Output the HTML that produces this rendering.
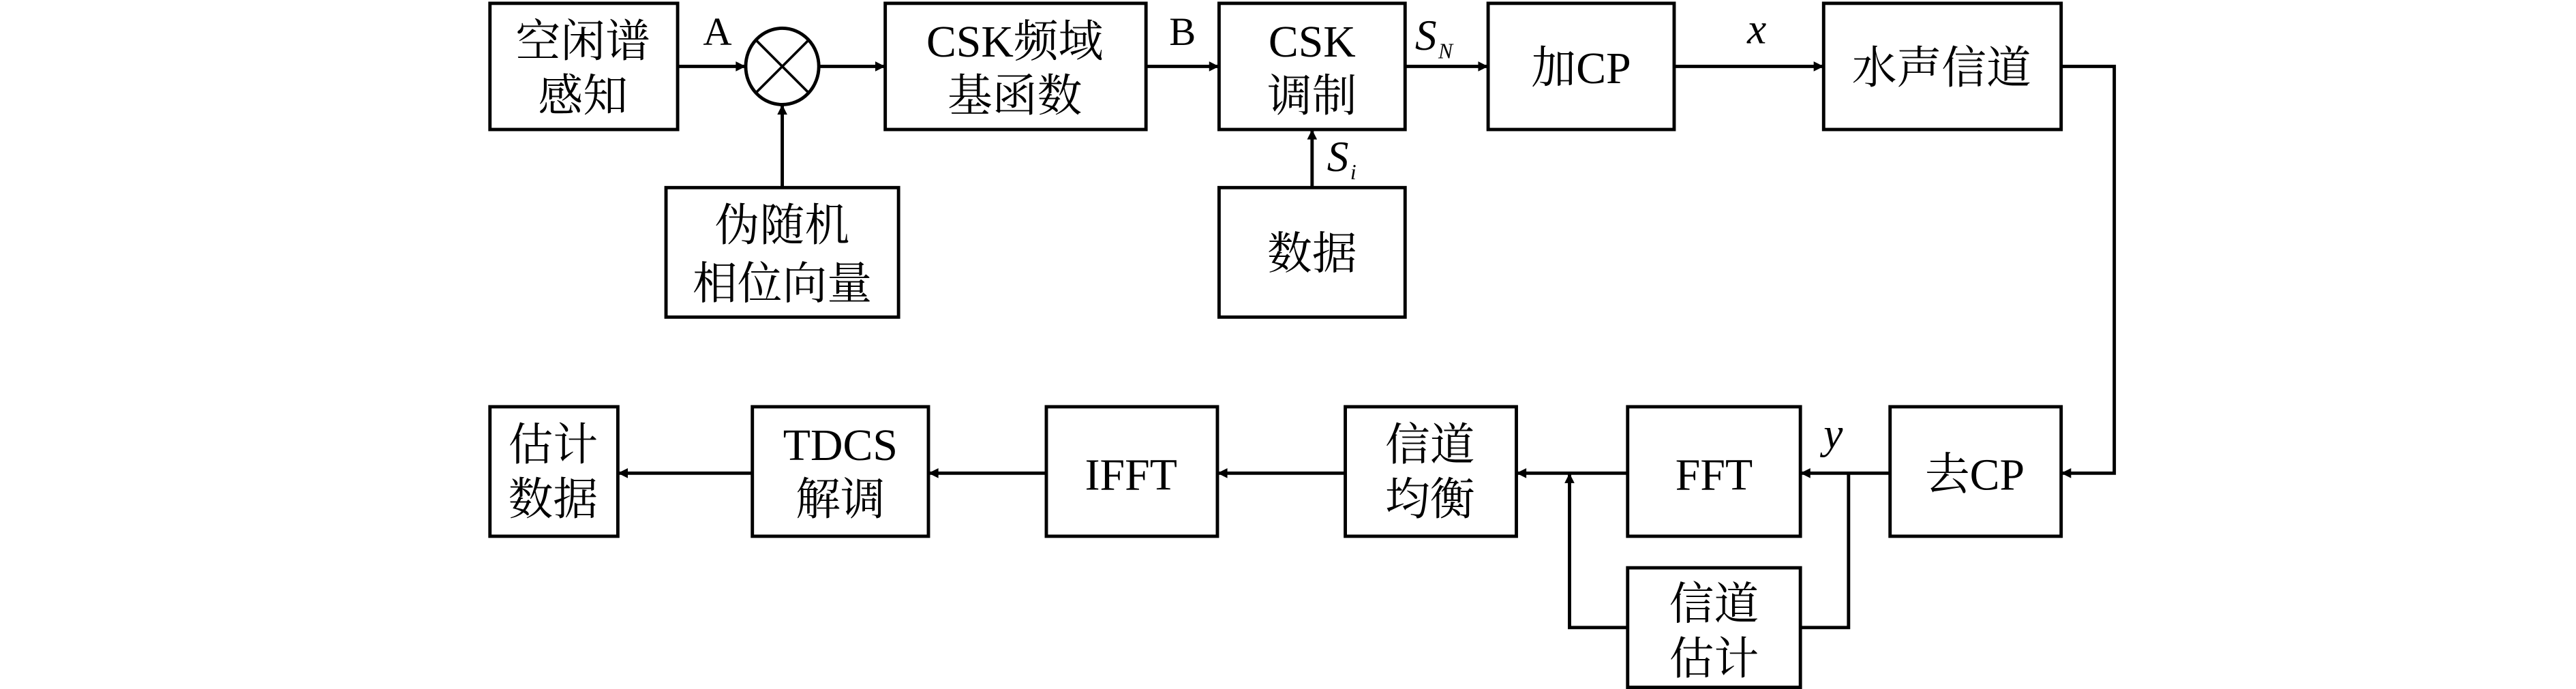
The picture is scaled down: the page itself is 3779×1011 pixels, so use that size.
<!DOCTYPE html>
<html><head><meta charset="utf-8"><style>html,body{margin:0;padding:0;background:#fff}svg{display:block}</style></head>
<body>
<svg width="3779" height="1011" viewBox="0 0 1551 415" preserveAspectRatio="none" xmlns="http://www.w3.org/2000/svg">
<defs>
<marker id="ar" viewBox="0 0 10 10" refX="10" refY="5" markerWidth="7" markerHeight="6" orient="auto" markerUnits="userSpaceOnUse"><path d="M0,0 L10,5 L0,10 z" fill="#000"/></marker>
</defs>
<g fill="#fff" stroke="#000" stroke-width="2">
<rect x="295" y="2" width="113" height="76"/>
<rect x="401" y="113" width="140" height="78"/>
<rect x="533" y="2" width="157" height="76"/>
<rect x="734" y="2" width="112" height="76"/>
<rect x="734" y="113" width="112" height="78"/>
<rect x="896" y="2" width="112" height="76"/>
<rect x="1098" y="2" width="143" height="76"/>
<rect x="1138" y="245" width="103" height="78"/>
<rect x="980" y="245" width="104" height="78"/>
<rect x="980" y="342" width="104" height="72"/>
<rect x="810" y="245" width="103" height="78"/>
<rect x="630" y="245" width="103" height="78"/>
<rect x="453" y="245" width="106" height="78"/>
<rect x="295" y="245" width="77" height="78"/>
<ellipse cx="471" cy="40" rx="22" ry="23"/>
</g>
<g stroke="#000" stroke-width="1.5" fill="none">
<line x1="455" y1="24" x2="487" y2="56"/><line x1="487" y1="24" x2="455" y2="56"/>
</g>
<g stroke="#000" stroke-width="2" fill="none" marker-end="url(#ar)">
<line x1="408" y1="40" x2="449" y2="40"/>
<line x1="493" y1="40" x2="533" y2="40"/>
<line x1="471" y1="113" x2="471" y2="63"/>
<line x1="690" y1="40" x2="734" y2="40"/>
<line x1="790" y1="113" x2="790" y2="78"/>
<line x1="846" y1="40" x2="896" y2="40"/>
<line x1="1008" y1="40" x2="1098" y2="40"/>
<polyline points="1241,40 1273,40 1273,285 1241,285"/>
<line x1="1138" y1="285" x2="1084" y2="285"/>
<line x1="980" y1="285" x2="913" y2="285"/>
<polyline points="980,378 945,378 945,285"/>
<line x1="810" y1="285" x2="733" y2="285"/>
<line x1="630" y1="285" x2="559" y2="285"/>
<line x1="453" y1="285" x2="372" y2="285"/>
</g>
<polyline points="1113,285 1113,378 1084,378" stroke="#000" stroke-width="2" fill="none"/>
<g font-family="Liberation Serif, Noto Serif CJK SC, serif" font-size="27" text-anchor="middle" fill="#000">
<text x="351" y="34">空闲谱</text><text x="351" y="67">感知</text>
<text x="471" y="145">伪随机</text><text x="471" y="180">相位向量</text>
<text x="611" y="34">CSK频域</text><text x="611" y="67">基函数</text>
<text x="790" y="34">CSK</text><text x="790" y="67">调制</text>
<text x="790" y="162">数据</text>
<text x="952" y="50">加CP</text>
<text x="1169" y="50">水声信道</text>
<text x="1189" y="295">去CP</text>
<text x="1032" y="295">FFT</text>
<text x="1032" y="373">信道</text><text x="1032" y="406">估计</text>
<text x="861" y="277">信道</text><text x="861" y="310">均衡</text>
<text x="681" y="295">IFFT</text>
<text x="506" y="277">TDCS</text><text x="506" y="310">解调</text>
<text x="333" y="277">估计</text><text x="333" y="310">数据</text>
<text x="432" y="27" font-size="24">A</text>
<text x="712" y="27" font-size="24">B</text>
</g>
<g font-family="Liberation Serif, serif" font-style="italic" fill="#000">
<text x="852" y="30" font-size="26">S</text><text x="866" y="35" font-size="13">N</text>
<text x="1052" y="26" font-size="26">x</text>
<text x="799" y="103" font-size="26">S</text><text x="813" y="108" font-size="13">i</text>
<text x="1098" y="270" font-size="26">y</text>
</g>
</svg>
</body></html>
